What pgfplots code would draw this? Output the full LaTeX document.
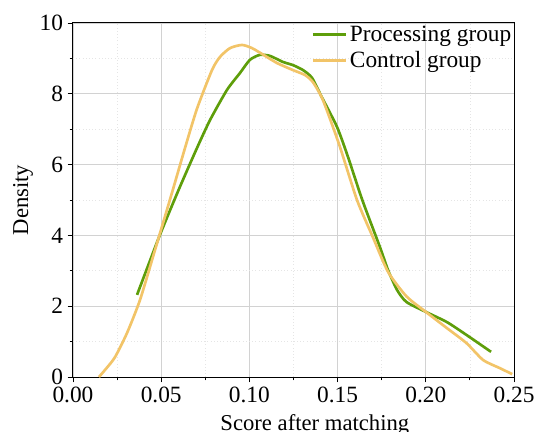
\documentclass[border=0pt]{standalone}
\usepackage{fontspec}
\setmainfont{Liberation Serif}
\usepackage{pgfplots}
\pgfplotsset{compat=1.18}
\definecolor{cProc}{HTML}{5E9E0A}
\definecolor{cCtrl}{HTML}{F2C468}

\begin{document}
\begin{tikzpicture}
  \begin{axis}[
    name=ax,
    scale only axis,
    width=330.75pt,
    height=265.5pt,
    xmin=0, xmax=0.25,
    ymin=0, ymax=10,
    xtick={0,0.05,0.10,0.15,0.20,0.25},
    ytick={0,2,4,6,8,10},
    minor tick num=1,
    xticklabel style={/pgf/number format/fixed, /pgf/number format/fixed zerofill, /pgf/number format/precision=2},
    /pgf/number format/assume math mode=true,
    tick align=outside,
    xtick pos=bottom, ytick pos=left,
    major tick length=4pt, minor tick length=2.5pt,
    tick style={black, line width=0.7pt},
    grid=both,
    major grid style={gray!35, line width=0.6pt},
    minor grid style={gray!20, dotted, line width=0.6pt},
    axis line style={black, line width=0.75pt},
    font=\fontsize{17}{20}\selectfont,
    tick label style={font=\fontsize{17.5}{20}\selectfont},
    xlabel={Score after matching},
    ylabel={Density},
    xlabel style={xshift=16pt, yshift=-2pt},
    ylabel style={yshift=-2pt},
    legend style={at={(1,1)}, anchor=north east, draw=none, fill=none,
      inner sep=0pt, outer sep=0pt, row sep=2pt,
      font=\fontsize{17.5}{20}\selectfont,
      cells={anchor=west}},
    legend image code/.code={\draw[#1] (0pt,0pt) -- (24.75pt,0pt);},
  ]
  \addplot[cProc, line width=2pt, smooth, tension=0.4] coordinates {
    (0.0363,2.32) (0.049,3.98) (0.060,5.30) (0.0703,6.47)
    (0.0777,7.26) (0.0873,8.11) (0.0947,8.59) (0.1003,8.96) (0.106,9.10)
    (0.1117,9.07) (0.119,8.90) (0.1247,8.81) (0.1304,8.67) (0.1355,8.45)
    (0.141,7.91) (0.1497,7.06) (0.156,6.20) (0.164,5.00) (0.174,3.67)
    (0.1786,3.02) (0.1837,2.46) (0.189,2.12) (0.200,1.84) (0.212,1.55)
    (0.223,1.19) (0.237,0.71)
  };
  \addlegendentry{Processing group}
  \addplot[cCtrl, line width=2pt, smooth, tension=0.4] coordinates {
    (0.0147,0.0) (0.0190,0.25) (0.0238,0.56) (0.0306,1.24) (0.038,2.18)
    (0.0465,3.59) (0.0555,5.10) (0.0635,6.47) (0.0703,7.58)
    (0.0788,8.67) (0.0833,9.04) (0.089,9.29) (0.0958,9.38) (0.1015,9.29)
    (0.108,9.10) (0.1156,8.87) (0.1247,8.67) (0.1315,8.53) (0.136,8.33)
    (0.1417,7.82) (0.151,6.55) (0.161,5.00) (0.170,3.95) (0.1786,2.97)
    (0.189,2.28) (0.200,1.84) (0.212,1.38) (0.223,0.96) (0.2325,0.48)
    (0.242,0.25) (0.249,0.08)
  };
  \addlegendentry{Control group}
  \end{axis}
  \pgfresetboundingbox
  \path[use as bounding box] ([xshift=-54.75pt, yshift=-41.25pt]ax.south west)
    rectangle ([xshift=16.5pt, yshift=17.25pt]ax.north east);
\end{tikzpicture}
\end{document}
